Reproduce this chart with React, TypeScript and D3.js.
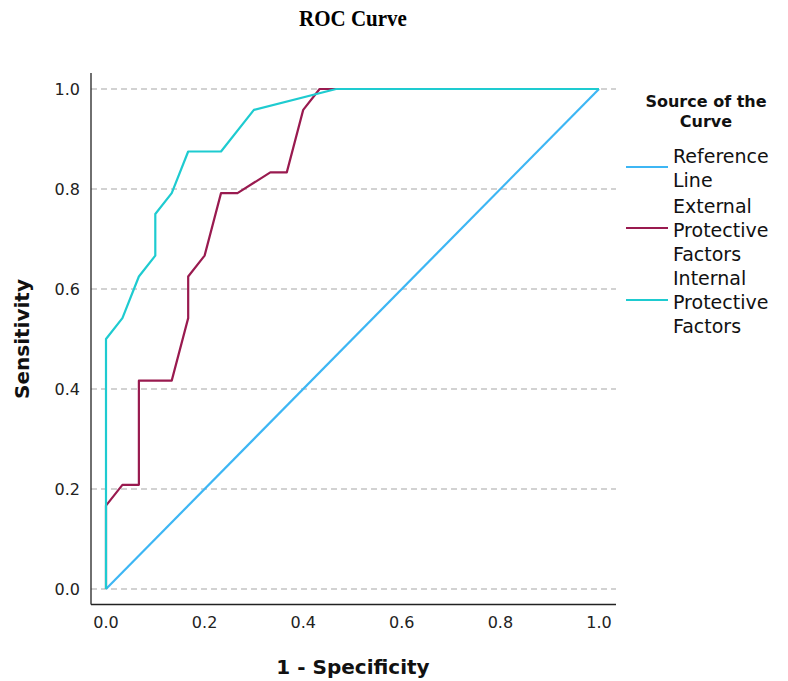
import React from "react";
import * as d3 from "d3";

const xTicks = [0, 0.2, 0.4, 0.6, 0.8, 1.0];
const yTicks = [0, 0.2, 0.4, 0.6, 0.8, 1.0];

const referenceX = [0, 1];
const referenceY = [0, 1];

const externalX = [0, 0, 0.0333, 0.0667, 0.0667, 0.1333, 0.1667, 0.1667, 0.2, 0.2333, 0.2667, 0.3333, 0.3667, 0.4, 0.4333, 1.0];
const externalY = [0, 0.1667, 0.2083, 0.2083, 0.4167, 0.4167, 0.5417, 0.625, 0.6667, 0.7917, 0.7917, 0.8333, 0.8333, 0.9583, 1.0, 1.0];

const internalX = [0, 0, 0.0333, 0.0667, 0.1, 0.1, 0.1333, 0.1667, 0.2333, 0.3, 0.4667, 1.0];
const internalY = [0, 0.5, 0.5417, 0.625, 0.6667, 0.75, 0.7917, 0.875, 0.875, 0.9583, 1.0, 1.0];

const seriesNames = ["Reference Line", "External Protective Factors", "Internal Protective Factors"];
const legendLabels = [["Reference", "Line"], ["External", "Protective", "Factors"], ["Internal", "Protective", "Factors"]];
const colors = ["#3db6f4", "#991a4f", "#1ecbd0"];

const sansFont = "'DejaVu Sans', Verdana, sans-serif";

export default function App() {
  const W = 788, H = 681;
  const x = d3.scaleLinear().domain([0, 1]).range([106, 599]);
  const y = d3.scaleLinear().domain([0, 1]).range([589, 89]);
  const axLeft = 91, axRight = 616, axTop = 73, axBottom = 604.5;

  const line = d3.line<[number, number]>().x(d => x(d[0])).y(d => y(d[1]));
  const series = [
    referenceX.map((v, i) => [v, referenceY[i]] as [number, number]),
    externalX.map((v, i) => [v, externalY[i]] as [number, number]),
    internalX.map((v, i) => [v, internalY[i]] as [number, number]),
  ];

  const legendLineY = [167, 228, 300];
  const legendTextTop = [156, 206, 278];

  return (
    <svg width={W} height={H} style={{ position: "absolute", left: 0, top: 0, background: "#fff" }}>
      <text x={353} y={26} textAnchor="middle" fontFamily="'Liberation Serif', 'Times New Roman', serif" fontWeight="bold" fontSize={21} transform="translate(353,26) scale(1,1.05) translate(-353,-26)">ROC Curve</text>

      {yTicks.map(t => (
        <line key={"g" + t} x1={axLeft} x2={axRight} y1={y(t)} y2={y(t)} stroke="#a6a6a6" strokeWidth={1.2} strokeDasharray="6,4" />
      ))}

      {series.map((s, i) => (
        <path key={seriesNames[i]} d={line(s) || ""} fill="none" stroke={colors[i]} strokeWidth={2.2} strokeLinejoin="round" />
      ))}

      <line x1={axLeft} x2={axLeft} y1={axTop} y2={axBottom} stroke="#222" strokeWidth={1.3} />
      <line x1={axLeft} x2={axRight} y1={axBottom} y2={axBottom} stroke="#222" strokeWidth={1.3} />

      {yTicks.map(t => (
        <text key={"yl" + t} x={80} y={y(t)} dy="0.36em" textAnchor="end" fontFamily={sansFont} fontSize={16} fill="#222">{t.toFixed(1)}</text>
      ))}
      {xTicks.map(t => (
        <text key={"xl" + t} x={x(t)} y={628} textAnchor="middle" fontFamily={sansFont} fontSize={16} fill="#222">{t.toFixed(1)}</text>
      ))}

      <text x={353} y={674} textAnchor="middle" fontFamily={sansFont} fontWeight="bold" fontSize={20} fill="#111">1 - Specificity</text>
      <text transform={`translate(29,339) rotate(-90)`} textAnchor="middle" fontFamily={sansFont} fontWeight="bold" fontSize={20} fill="#111">Sensitivity</text>

      <text x={706} y={107} textAnchor="middle" fontFamily={sansFont} fontWeight="bold" fontSize={16} fill="#111">Source of the</text>
      <text x={706} y={127} textAnchor="middle" fontFamily={sansFont} fontWeight="bold" fontSize={16} fill="#111">Curve</text>

      {legendLabels.map((lines, i) => (
        <g key={"lg" + i}>
          <line x1={626} x2={668} y1={legendLineY[i]} y2={legendLineY[i]} stroke={colors[i]} strokeWidth={2} />
          {lines.map((l, j) => (
            <text key={l} x={673} y={legendTextTop[i] + j * 24} dy="0.36em" fontFamily={sansFont} fontSize={19} fill="#111">{l}</text>
          ))}
        </g>
      ))}
    </svg>
  );
}
